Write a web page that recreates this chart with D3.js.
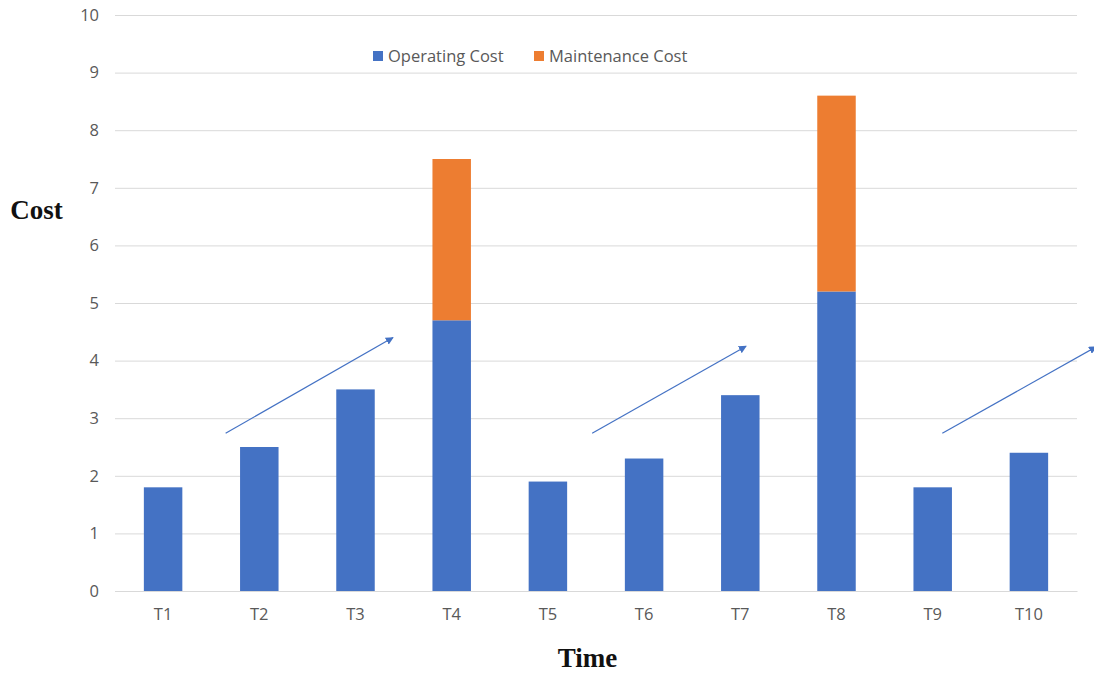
<!DOCTYPE html>
<html>
<head>
<meta charset="utf-8">
<script src="https://cdn.jsdelivr.net/npm/d3@7"></script>
<style>
  html, body { margin: 0; padding: 0; background: #fff; }
  svg { display: block; }
</style>
</head>
<body>
<svg id="chart" width="1094" height="673"></svg>
<script>
const categories = ["T1","T2","T3","T4","T5","T6","T7","T8","T9","T10"];
const operatingCost = [1.8, 2.5, 3.5, 4.7, 1.9, 2.3, 3.4, 5.2, 1.8, 2.4];
const maintenanceCost = [0, 0, 0, 2.8, 0, 0, 0, 3.4, 0, 0];
const seriesNames = ["Operating Cost", "Maintenance Cost"];
const seriesColors = ["#4472C4", "#ED7D31"];
const yTicks = [0,1,2,3,4,5,6,7,8,9,10];
// trend arrows: start/end category, offset within step, value
const arrows = [
  { from: "T2", fromOff: -0.35, fromVal: 2.74, to: "T3", toOff: 0.39, toVal: 4.4 },
  { from: "T5", fromOff: 0.46, fromVal: 2.74, to: "T7", toOff: 0.06, toVal: 4.25 },
  { from: "T9", fromOff: 0.10, fromVal: 2.74, to: "T10", toOff: 0.70, toVal: 4.24 }
];

const svg = d3.select("#chart");
const margin = { left: 115, right: 17, top: 15, bottom: 82 };
const W = 1094, H = 673;
const tickFont = "'Open Sans', sans-serif";

const x = d3.scaleBand().domain(categories)
  .range([margin.left, W - margin.right])
  .paddingInner(0.6).paddingOuter(0.3);
const y = d3.scaleLinear().domain([0, 10]).range([H - margin.bottom, margin.top]);

const defs = svg.append("defs");
defs.append("marker").attr("id", "ah")
  .attr("viewBox", "0 0 10 10").attr("refX", 9).attr("refY", 5)
  .attr("markerWidth", 8).attr("markerHeight", 8).attr("markerUnits", "userSpaceOnUse")
  .attr("orient", "auto")
  .append("path").attr("d", "M0,0 L10,5 L0,10 Z").attr("fill", "#4472C4");

// gridlines
const yAxis = d3.axisLeft(y).tickValues(yTicks).tickSize(-(W - margin.left - margin.right)).tickPadding(16).tickFormat(d3.format("d"));
const gy = svg.append("g").attr("transform", `translate(${margin.left},0)`).call(yAxis);
gy.select(".domain").remove();
gy.selectAll(".tick line").attr("stroke", "#d9d9d9").attr("stroke-width", 1);
gy.selectAll(".tick text").attr("fill", "#595959").style("font-family", tickFont).style("font-size", "16.5px");

// bars
const stacked = d3.stack().keys([0, 1]).value((d, k) => d[k])(categories.map((c, i) => [operatingCost[i], maintenanceCost[i]]));
stacked.forEach((layer, li) => {
  svg.append("g").selectAll("rect").data(layer.map((d, i) => ({ d, c: categories[i] })))
    .join("rect")
    .filter(e => e.d[1] - e.d[0] > 0)
    .attr("x", e => x(e.c))
    .attr("width", x.bandwidth())
    .attr("y", e => y(e.d[1]))
    .attr("height", e => y(e.d[0]) - y(e.d[1]))
    .attr("fill", seriesColors[li]);
});

// x axis
const xAxis = d3.axisBottom(x).tickSize(0).tickPadding(17);
const gx = svg.append("g").attr("transform", `translate(0,${y(0)})`).call(xAxis);
gx.select(".domain").attr("stroke", "#d9d9d9");
gx.selectAll(".tick text").attr("fill", "#595959").style("font-family", tickFont).style("font-size", "16.5px");

// arrows
const step = x.step();
svg.append("g").selectAll("line").data(arrows).join("line")
  .attr("x1", a => x(a.from) + x.bandwidth() / 2 + a.fromOff * step)
  .attr("y1", a => y(a.fromVal))
  .attr("x2", a => x(a.to) + x.bandwidth() / 2 + a.toOff * step)
  .attr("y2", a => y(a.toVal))
  .attr("stroke", "#4472C4").attr("stroke-width", 1.2)
  .attr("marker-end", "url(#ah)");

// legend
const legend = svg.append("g").attr("transform", "translate(373,56)");
const legX = [0, 161];
seriesNames.forEach((n, i) => {
  const g = legend.append("g").attr("transform", `translate(${legX[i]},0)`);
  g.append("rect").attr("x", 0).attr("y", -5).attr("width", 10).attr("height", 10).attr("fill", seriesColors[i]);
  g.append("text").attr("x", 15).attr("y", 0).attr("dy", "0.35em")
    .attr("fill", "#595959").style("font-family", tickFont).style("font-size", "16.5px").text(n);
});

// axis titles
svg.append("text").attr("x", 36.5).attr("y", 219).attr("text-anchor", "middle")
  .style("font-family", "'Liberation Serif', 'Times New Roman', serif").style("font-weight", "bold").style("font-size", "27px")
  .attr("fill", "#111").text("Cost");
svg.append("text").attr("x", 587.5).attr("y", 667).attr("text-anchor", "middle")
  .style("font-family", "'Liberation Serif', 'Times New Roman', serif").style("font-weight", "bold").style("font-size", "27px")
  .attr("fill", "#111").text("Time");
</script>
</body>
</html>
